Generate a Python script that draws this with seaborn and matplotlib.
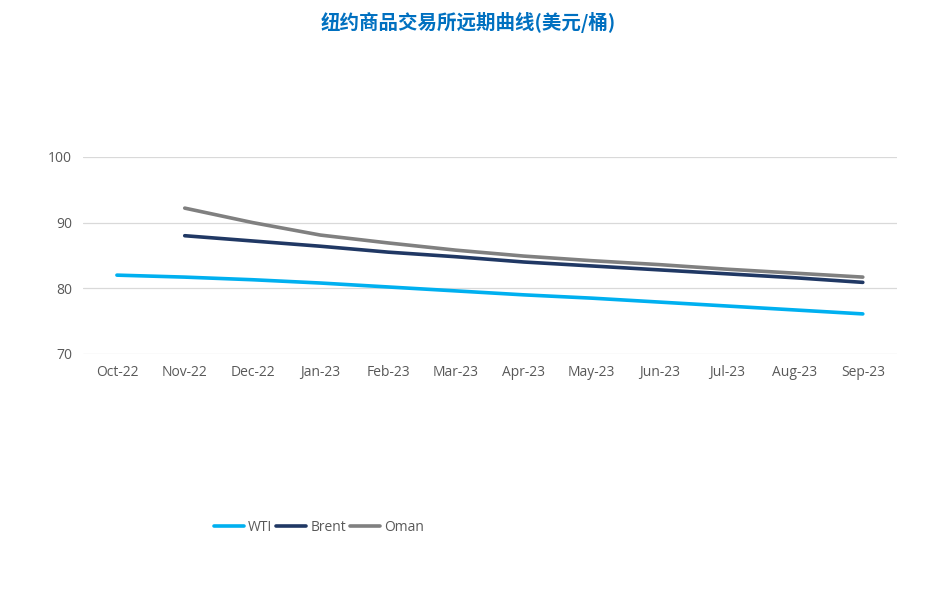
import pandas as pd
import numpy as np
import matplotlib
matplotlib.use('Agg')
import matplotlib.pyplot as plt
import seaborn as sns

months = ['Oct-22', 'Nov-22', 'Dec-22', 'Jan-23', 'Feb-23', 'Mar-23',
          'Apr-23', 'May-23', 'Jun-23', 'Jul-23', 'Aug-23', 'Sep-23']
wti = [82.0, 81.7, 81.3, 80.8, 80.2, 79.6, 79.0, 78.5, 77.9, 77.3, 76.7, 76.1]
brent = [np.nan, 88.0, 87.2, 86.4, 85.5, 84.8, 84.0, 83.4, 82.8, 82.2, 81.6, 80.9]
oman = [np.nan, 92.2, 90.0, 88.1, 86.9, 85.8, 84.9, 84.2, 83.6, 82.9, 82.3, 81.7]
series = ['WTI', 'Brent', 'Oman']
colors = ['#00B0F0', '#203864', '#808080']

df = pd.DataFrame({'month': months, 'WTI': wti, 'Brent': brent, 'Oman': oman})
df['pos'] = range(len(months))
df_long = df.melt(id_vars=['month', 'pos'], value_vars=series,
                  var_name='series', value_name='price')

sns.set_theme(style='white')
plt.rcParams['font.family'] = ['Open Sans', 'Noto Sans CJK SC', 'DejaVu Sans']

fig = plt.figure(figsize=(9.37, 6.01), dpi=100)
ax = fig.add_axes([0.0886, 0.411, 0.8684, 0.328])

sns.lineplot(data=df_long, x='pos', y='price', hue='series', hue_order=series,
             palette=dict(zip(series, colors)), linewidth=2.6, ax=ax, legend=False)

ax.set_xlim(-0.5, len(months) - 0.5)
ax.set_ylim(70, 100)
ax.set_yticks([70, 80, 90, 100])
ax.set_xticks(df['pos'])
ax.set_xticklabels(months)
ax.tick_params(axis='both', labelsize=10, labelcolor='#595959', length=0, pad=8)
ax.grid(axis='y', color='#D9D9D9', linewidth=0.9)
ax.set_xlabel('')
ax.set_ylabel('')
for s in ax.spines.values():
    s.set_visible(False)

# legend along the bottom, left of centre
handles = [plt.Line2D([], [], color=c, linewidth=2.6) for c in colors]
fig.legend(handles, series, loc='center left', bbox_to_anchor=(0.215, 0.123),
           ncol=3, frameon=False, handlelength=2.15, handletextpad=0.3,
           columnspacing=0.3, prop={'size': 10}, labelcolor='#595959')

fig.text(0.5, 0.963, '纽约商品交易所远期曲线(美元/桶)', ha='center', va='center',
         fontsize=14, fontweight='bold', color='#0070C0',
         family=['Noto Sans CJK SC', 'DejaVu Sans'])

fig.savefig('out.png', dpi=100)
